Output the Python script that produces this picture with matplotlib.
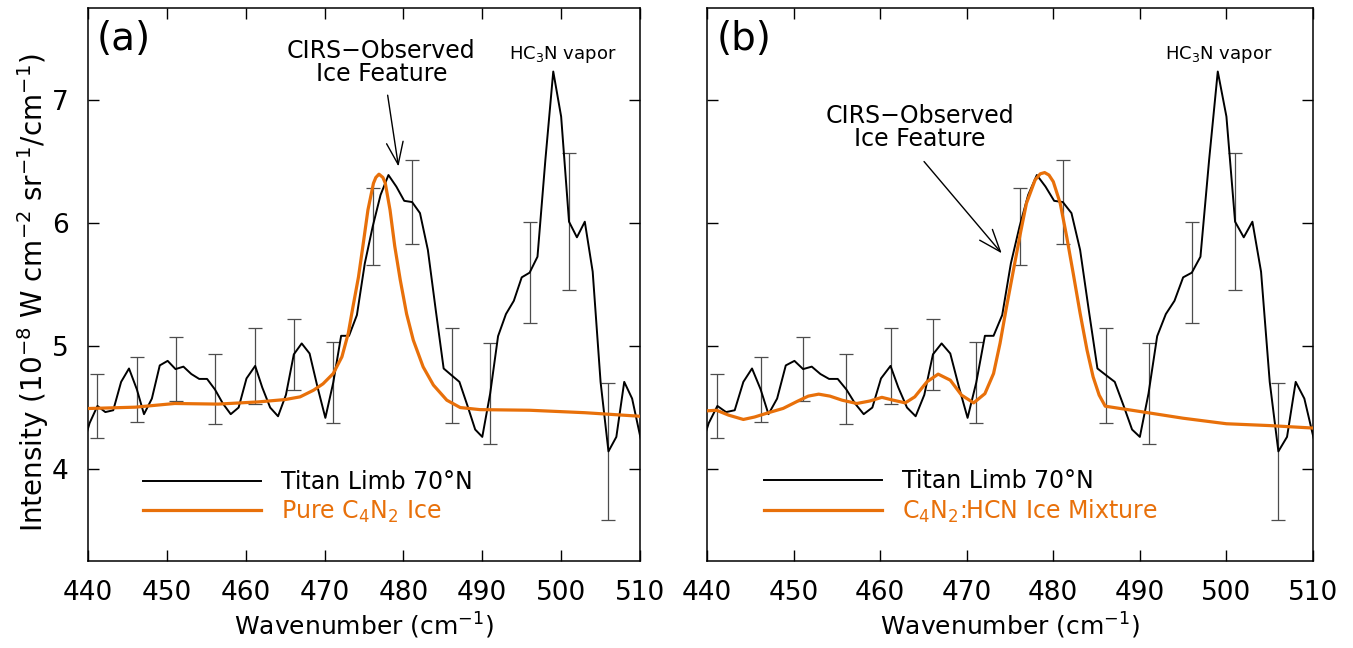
import matplotlib
matplotlib.use("Agg")
import matplotlib.pyplot as plt

# === Titan limb spectrum, 70N
limb_wn = [439.2, 440.2, 441.2, 442.2, 443.2, 444.2, 445.2, 446.2, 447.1, 448.1,
           449.1, 450.1, 451.1, 452.1, 453.1, 454.1, 455.1, 456.1, 457.1, 458.1,
           459.1, 460.1, 461.2, 462.1, 463.1, 464.1, 465.1, 466.1, 467.1, 468.1,
           469.1, 470.1, 471.1, 472.1, 473.1, 474.1, 475.1, 476.1, 477.1, 478.1,
           479.1, 480.1, 481.1, 482.1, 483.1, 484.1, 485.1, 486.1, 487.1, 488.1,
           489.1, 490.0, 491.0, 492.0, 493.0, 494.0, 495.0, 496.0, 497.0, 498.0,
           499.0, 500.0, 501.0, 502.0, 503.0, 504.0, 505.0, 506.0, 507.0, 508.0,
           509.0, 510.0, 510.9]
limb_int = [4.15, 4.37, 4.51, 4.46, 4.475, 4.706, 4.815, 4.644, 4.443, 4.57,
            4.84, 4.877, 4.81, 4.83, 4.77, 4.73, 4.73, 4.644, 4.53, 4.443,
            4.497, 4.734, 4.836, 4.66, 4.497, 4.426, 4.60, 4.93, 5.019, 4.937,
            4.665, 4.413, 4.70, 5.081, 5.081, 5.25, 5.67, 5.97, 6.228, 6.39,
            6.296, 6.18, 6.17, 6.08, 5.78, 5.29, 4.815, 4.76, 4.706, 4.516,
            4.318, 4.258, 4.611, 5.078, 5.258, 5.366, 5.557, 5.595, 5.725, 6.513,
            7.233, 6.866, 6.01, 5.883, 6.01, 5.603, 4.706, 4.14, 4.258, 4.706,
            4.57, 4.27, 4.0]

# === 1-sigma error bars (every 5th point)
err_wn = [441.2, 446.2, 451.1, 456.1, 461.2, 466.1, 471.1, 476.1, 481.1, 486.1,
          491.0, 496.0, 501.0, 506.0]
err_sig = [0.26, 0.267, 0.26, 0.285, 0.31, 0.29, 0.33, 0.315, 0.34, 0.387,
           0.414, 0.41, 0.56, 0.56]

# === (a) pure C4N2 ice model
pure_wn = [440.0, 446.0, 451.0, 456.5, 461.6, 465.0, 466.9, 468.6, 469.8, 471.1,
           472.2, 473.0, 473.6, 474.3, 474.9, 475.5, 476.2, 476.5, 476.9, 477.4,
           477.7, 478.3, 478.9, 479.6, 480.4, 481.25, 482.5, 483.8, 485.5, 487.2,
           489.7, 496.0, 503.0, 510.0]
pure_int = [4.489, 4.50, 4.53, 4.525, 4.543, 4.562, 4.584, 4.638, 4.69, 4.774,
            4.91, 5.10, 5.317, 5.56, 5.83, 6.106, 6.323, 6.37, 6.397, 6.37,
            6.323, 6.106, 5.81, 5.535, 5.26, 5.046, 4.828, 4.68, 4.557, 4.497,
            4.48, 4.475, 4.455, 4.426]

# === (b) C4N2:HCN ice mixture model
mix_wn = [440.0, 441.1, 442.5, 444.2, 445.5, 447.1, 448.8, 450.5, 451.7, 452.9,
          454.2, 455.6, 457.3, 458.8, 460.2, 461.5, 462.9, 464.0, 465.4, 466.7,
          468.1, 469.4, 470.8, 472.1, 473.1, 473.85, 474.6, 475.4, 476.2, 476.9,
          477.9, 478.5, 479.0, 479.5, 480.0, 480.8, 481.55, 482.3, 483.1, 483.9,
          484.6, 485.3, 486.0, 490.0, 495.0, 500.0, 505.0, 510.0]
mix_int = [4.47, 4.475, 4.435, 4.40, 4.42, 4.455, 4.49, 4.55, 4.59, 4.606,
           4.59, 4.557, 4.53, 4.55, 4.58, 4.557, 4.535, 4.584, 4.706, 4.769,
           4.72, 4.598, 4.535, 4.61, 4.774, 5.02, 5.317, 5.617, 5.916, 6.16,
           6.35, 6.40, 6.41, 6.39, 6.336, 6.16, 5.888, 5.59, 5.264, 4.964,
           4.747, 4.598, 4.508, 4.465, 4.41, 4.365, 4.35, 4.33]

x_ticks = [440, 450, 460, 470, 480, 490, 500, 510]
y_ticks = [4, 5, 6, 7]

ORANGE = "#E8700A"

fig = plt.figure(figsize=(13.53, 6.48), dpi=100)
W, H = 1353, 648
ax_a = fig.add_axes([88 / W, (H - 560.7) / H, 552 / W, 552.7 / H])
ax_b = fig.add_axes([707 / W, (H - 560.7) / H, 606 / W, 552.7 / H])


def draw_panel(ax, model_wn, model_int, model_label, legend_x):
    ax.errorbar(err_wn, [limb_int[limb_wn.index(w)] for w in err_wn], yerr=err_sig,
                fmt="none", ecolor="0.3", elinewidth=0.9, capsize=5, capthick=0.9,
                zorder=1)
    l1, = ax.plot(limb_wn, limb_int, color="black", lw=1.4, zorder=2)
    l2, = ax.plot(model_wn, model_int, color=ORANGE, lw=2.3, zorder=3)

    ax.set_xlim(440, 510)
    ax.set_ylim(3.25, 7.75)
    ax.set_xticks(x_ticks)
    ax.set_yticks(y_ticks)
    ax.tick_params(direction="in", length=8, width=1.0, top=True, right=True,
                   labelsize=19, pad=14)
    for s in ax.spines.values():
        s.set_linewidth(1.1)
    ax.set_xlabel("Wavenumber (cm$^{-1}$)", fontsize=18, labelpad=3)

    ax.legend([l1, l2], ["Titan Limb 70\u00b0N", model_label],
              loc="lower left", bbox_to_anchor=(legend_x, 0.065), frameon=False,
              fontsize=17, handlelength=5.0, handletextpad=0.85,
              labelspacing=0.2, borderpad=0, borderaxespad=0,
              labelcolor="linecolor")


# === Panel (a)
draw_panel(ax_a, pure_wn, pure_int, "Pure C$_4$N$_2$ Ice", 0.0996)
ax_a.set_ylabel("Intensity (10$^{-8}$ W cm$^{-2}$ sr$^{-1}$/cm$^{-1}$)", fontsize=20)
ax_a.yaxis.set_label_coords(-0.067, 0.485)
ax_a.text(0.016, 0.978, "(a)", transform=ax_a.transAxes, fontsize=28,
          ha="left", va="top")
ax_a.text(477.2, 7.50, "CIRS\u2212Observed\nIce Feature", fontsize=17,
          ha="center", va="top", linespacing=0.95)
ax_a.annotate("", xy=(479.37, 6.46), xytext=(478.0, 7.04),
              arrowprops=dict(arrowstyle="->,head_length=0.8,head_width=0.3",
                              lw=1.0, color="black", shrinkA=0, shrinkB=0,
                              mutation_scale=20))
ax_a.text(500.2, 7.46, "HC$_3$N vapor", fontsize=13, ha="center", va="top")

# === Panel (b)
draw_panel(ax_b, mix_wn, mix_int, "C$_4$N$_2$:HCN Ice Mixture", 0.094)
ax_b.tick_params(labelleft=False)
ax_b.text(0.016, 0.978, "(b)", transform=ax_b.transAxes, fontsize=28,
          ha="left", va="top")
ax_b.text(464.6, 6.97, "CIRS\u2212Observed\nIce Feature", fontsize=17,
          ha="center", va="top", linespacing=0.95)
ax_b.annotate("", xy=(474.04, 5.753), xytext=(465.07, 6.50),
              arrowprops=dict(arrowstyle="->,head_length=0.8,head_width=0.3",
                              lw=1.0, color="black", shrinkA=0, shrinkB=0,
                              mutation_scale=20))
ax_b.text(499.1, 7.46, "HC$_3$N vapor", fontsize=13, ha="center", va="top")

fig.savefig("out.png", dpi=100)
